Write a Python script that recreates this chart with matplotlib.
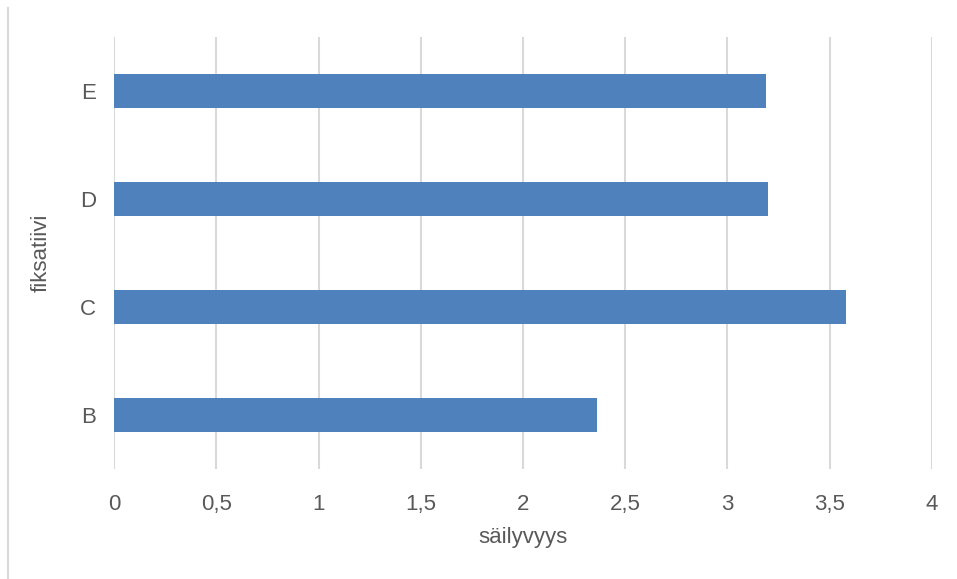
import matplotlib
matplotlib.use("Agg")
import matplotlib.pyplot as plt
from matplotlib.lines import Line2D
from matplotlib import font_manager

categories = ["B", "C", "D", "E"]
values = [2.36, 3.58, 3.20, 3.19]
xticks = [0, 0.5, 1, 1.5, 2, 2.5, 3, 3.5, 4]
xtick_labels = ["0", "0,5", "1", "1,5", "2", "2,5", "3", "3,5", "4"]

names = {f.name for f in font_manager.fontManager.ttflist}
fam = "Liberation Sans Narrow" if "Liberation Sans Narrow" in names else "Liberation Sans"
plt.rcParams["font.family"] = [fam, "DejaVu Sans"]

fig = plt.figure(figsize=(9.57, 5.79), dpi=100)
ax = fig.add_axes([114/957, 1-469/579, (932-114)/957, (469-37)/579])

grey = "#595959"
ax.barh(range(len(categories)), values, height=0.315, color="#4f81bd", zorder=3)
ax.set_xlim(0, 4)
ax.set_ylim(-0.5, len(categories)-0.5)
ax.set_xticks(xticks)
ax.set_xticklabels(xtick_labels)
ax.set_yticks(range(len(categories)))
ax.set_yticklabels(categories)
ax.grid(axis="x", color="#d9d9d9", linewidth=1.5, zorder=0)
for s in ax.spines.values():
    s.set_visible(False)
ax.tick_params(axis="both", length=0, labelsize=16, labelcolor=grey)
ax.tick_params(axis="x", pad=18)
ax.tick_params(axis="y", pad=13)
ax.set_xlabel("säilyvyys", fontsize=16, color=grey, labelpad=9)
ax.set_ylabel("fiksatiivi", fontsize=16, color=grey, labelpad=20)

fig.add_artist(Line2D([8/957, 8/957], [0, 1-8/579], transform=fig.transFigure,
                      color="#d9d9d9", linewidth=1.5))

fig.savefig("out.png", dpi=100)
